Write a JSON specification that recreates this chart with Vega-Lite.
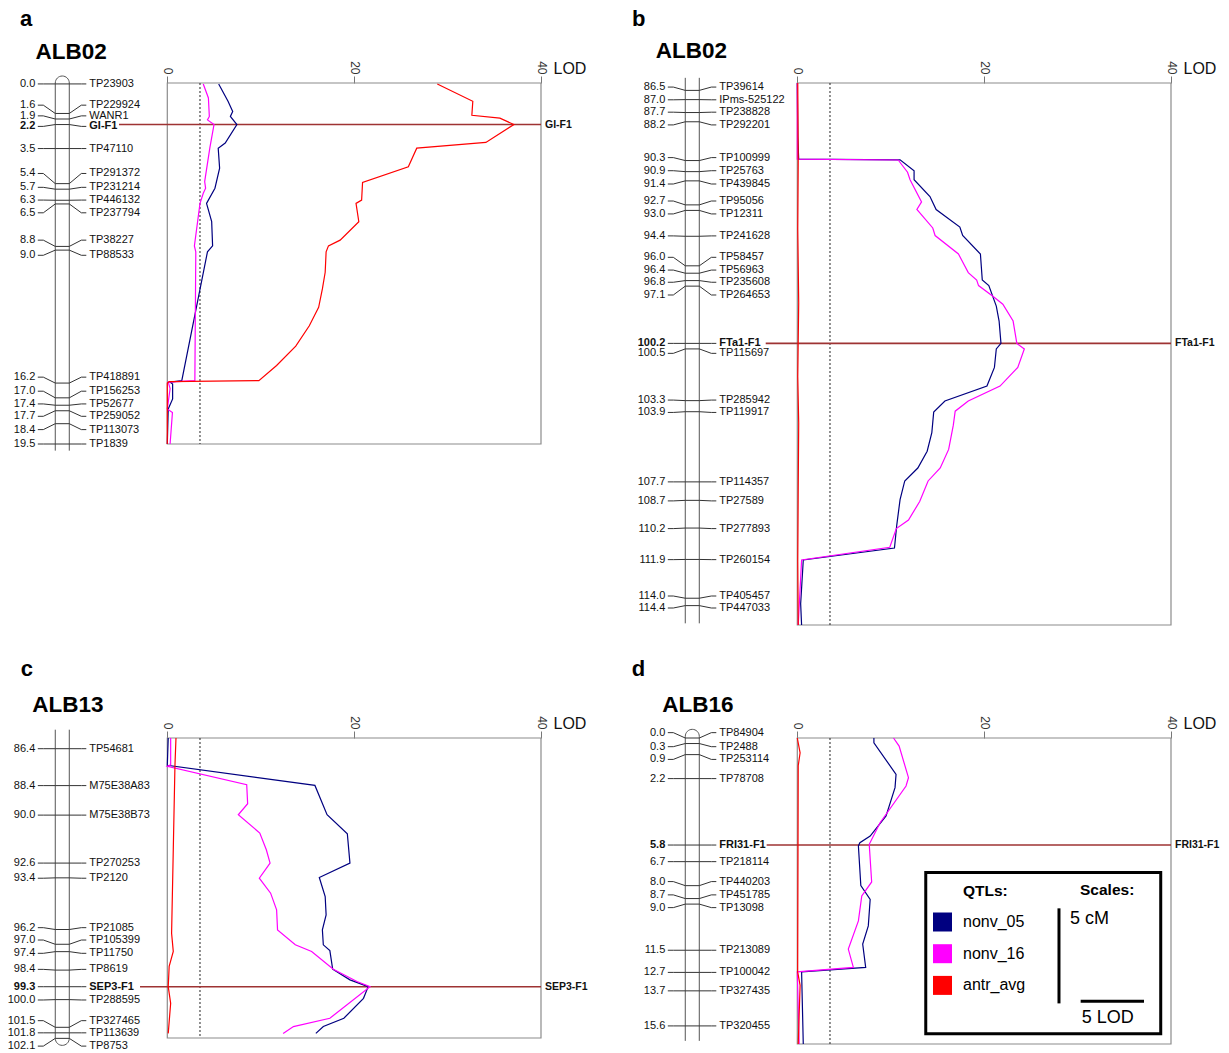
{
"$schema": "https://vega.github.io/schema/vega-lite/v6.json",
"padding": {"left": 1, "top": 8, "right": 0, "bottom": 0},
"columns": 2,
"spacing": {"row": 113, "column": 90},
"bounds": "flush",
"datasets": {
"mk_a": [
{"marker":"TP23903","cM":0.0,"label_cM":0.0,"qtl":false},
{"marker":"TP229924","cM":1.6,"label_cM":1.15,"qtl":false},
{"marker":"WANR1","cM":1.9,"label_cM":1.73,"qtl":false},
{"marker":"GI-F1","cM":2.2,"label_cM":2.3,"qtl":true},
{"marker":"TP47110","cM":3.5,"label_cM":3.5,"qtl":false},
{"marker":"TP291372","cM":5.4,"label_cM":4.85,"qtl":false},
{"marker":"TP231214","cM":5.7,"label_cM":5.6,"qtl":false},
{"marker":"TP446132","cM":6.3,"label_cM":6.29,"qtl":false},
{"marker":"TP237794","cM":6.5,"label_cM":6.98,"qtl":false},
{"marker":"TP38227","cM":8.8,"label_cM":8.46,"qtl":false},
{"marker":"TP88533","cM":9.0,"label_cM":9.28,"qtl":false},
{"marker":"TP418891","cM":16.2,"label_cM":15.88,"qtl":false},
{"marker":"TP156253","cM":17.0,"label_cM":16.64,"qtl":false},
{"marker":"TP52677","cM":17.4,"label_cM":17.33,"qtl":false},
{"marker":"TP259052","cM":17.7,"label_cM":18.0,"qtl":false},
{"marker":"TP113073","cM":18.4,"label_cM":18.72,"qtl":false},
{"marker":"TP1839","cM":19.5,"label_cM":19.5,"qtl":false}
],
"mk_b": [
{"marker":"TP39614","cM":86.5,"label_cM":86.32,"qtl":false},
{"marker":"IPms-525122","cM":87.0,"label_cM":87.01,"qtl":false},
{"marker":"TP238828","cM":87.7,"label_cM":87.68,"qtl":false},
{"marker":"TP292201","cM":88.2,"label_cM":88.37,"qtl":false},
{"marker":"TP100999","cM":90.3,"label_cM":90.14,"qtl":false},
{"marker":"TP25763","cM":90.9,"label_cM":90.85,"qtl":false},
{"marker":"TP439845","cM":91.4,"label_cM":91.57,"qtl":false},
{"marker":"TP95056","cM":92.7,"label_cM":92.49,"qtl":false},
{"marker":"TP12311","cM":93.0,"label_cM":93.19,"qtl":false},
{"marker":"TP241628","cM":94.4,"label_cM":94.38,"qtl":false},
{"marker":"TP58457","cM":96.0,"label_cM":95.54,"qtl":false},
{"marker":"TP56963","cM":96.4,"label_cM":96.23,"qtl":false},
{"marker":"TP235608","cM":96.8,"label_cM":96.89,"qtl":false},
{"marker":"TP264653","cM":97.1,"label_cM":97.58,"qtl":false},
{"marker":"FTa1-F1","cM":100.2,"label_cM":100.2,"qtl":true},
{"marker":"TP115697","cM":100.5,"label_cM":100.74,"qtl":false},
{"marker":"TP285942","cM":103.3,"label_cM":103.27,"qtl":false},
{"marker":"TP119917","cM":103.9,"label_cM":103.94,"qtl":false},
{"marker":"TP114357","cM":107.7,"label_cM":107.7,"qtl":false},
{"marker":"TP27589","cM":108.7,"label_cM":108.73,"qtl":false},
{"marker":"TP277893","cM":110.2,"label_cM":110.23,"qtl":false},
{"marker":"TP260154","cM":111.9,"label_cM":111.91,"qtl":false},
{"marker":"TP405457","cM":114.0,"label_cM":113.88,"qtl":false},
{"marker":"TP447033","cM":114.4,"label_cM":114.53,"qtl":false}
],
"mk_c": [
{"marker":"TP54681","cM":86.4,"label_cM":86.4,"qtl":false},
{"marker":"M75E38A83","cM":88.4,"label_cM":88.4,"qtl":false},
{"marker":"M75E38B73","cM":90.0,"label_cM":90.0,"qtl":false},
{"marker":"TP270253","cM":92.6,"label_cM":92.6,"qtl":false},
{"marker":"TP2120","cM":93.4,"label_cM":93.42,"qtl":false},
{"marker":"TP21085","cM":96.2,"label_cM":96.1,"qtl":false},
{"marker":"TP105399","cM":97.0,"label_cM":96.77,"qtl":false},
{"marker":"TP11750","cM":97.4,"label_cM":97.49,"qtl":false},
{"marker":"TP8619","cM":98.4,"label_cM":98.36,"qtl":false},
{"marker":"SEP3-F1","cM":99.3,"label_cM":99.3,"qtl":true},
{"marker":"TP288595","cM":100.0,"label_cM":100.02,"qtl":false},
{"marker":"TP327465","cM":101.5,"label_cM":101.14,"qtl":false},
{"marker":"TP113639","cM":101.8,"label_cM":101.8,"qtl":false},
{"marker":"TP8753","cM":102.1,"label_cM":102.52,"qtl":false}
],
"mk_d": [
{"marker":"TP84904","cM":0.0,"label_cM":-0.29,"qtl":false},
{"marker":"TP2488","cM":0.3,"label_cM":0.47,"qtl":false},
{"marker":"TP253114","cM":0.9,"label_cM":1.16,"qtl":false},
{"marker":"TP78708","cM":2.2,"label_cM":2.2,"qtl":false},
{"marker":"FRI31-F1","cM":5.8,"label_cM":5.8,"qtl":true},
{"marker":"TP218114","cM":6.7,"label_cM":6.7,"qtl":false},
{"marker":"TP440203","cM":8.0,"label_cM":7.78,"qtl":false},
{"marker":"TP451785","cM":8.7,"label_cM":8.5,"qtl":false},
{"marker":"TP13098","cM":9.0,"label_cM":9.19,"qtl":false},
{"marker":"TP213089","cM":11.5,"label_cM":11.5,"qtl":false},
{"marker":"TP100042","cM":12.7,"label_cM":12.7,"qtl":false},
{"marker":"TP327435","cM":13.7,"label_cM":13.7,"qtl":false},
{"marker":"TP320455","cM":15.6,"label_cM":15.6,"qtl":false}
],
"lod_a": [
{"trait":"nonv_05","cM":0,"LOD":5.5},{"trait":"nonv_05","cM":0.94,"LOD":6.5},{"trait":"nonv_05","cM":1.49,"LOD":7.0},{"trait":"nonv_05","cM":1.76,"LOD":6.75},{"trait":"nonv_05","cM":2.2,"LOD":7.45},{"trait":"nonv_05","cM":3.2,"LOD":6.2},{"trait":"nonv_05","cM":3.48,"LOD":5.45},{"trait":"nonv_05","cM":4.56,"LOD":5.6},{"trait":"nonv_05","cM":5.65,"LOD":5.1},{"trait":"nonv_05","cM":6.47,"LOD":4.2},{"trait":"nonv_05","cM":7.46,"LOD":4.75},{"trait":"nonv_05","cM":8.77,"LOD":4.85},{"trait":"nonv_05","cM":9.09,"LOD":4.3},{"trait":"nonv_05","cM":16.07,"LOD":1.55},{"trait":"nonv_05","cM":16.15,"LOD":0.3},{"trait":"nonv_05","cM":16.25,"LOD":0.57},{"trait":"nonv_05","cM":17.06,"LOD":0.57},{"trait":"nonv_05","cM":17.6,"LOD":0.1},{"trait":"nonv_05","cM":19.5,"LOD":0.0},
{"trait":"nonv_16","cM":0,"LOD":3.85},{"trait":"nonv_16","cM":0.76,"LOD":4.4},{"trait":"nonv_16","cM":1.76,"LOD":4.5},{"trait":"nonv_16","cM":1.95,"LOD":4.3},{"trait":"nonv_16","cM":2.2,"LOD":5.0},{"trait":"nonv_16","cM":3.48,"LOD":4.55},{"trait":"nonv_16","cM":5.29,"LOD":4.0},{"trait":"nonv_16","cM":5.65,"LOD":4.1},{"trait":"nonv_16","cM":5.92,"LOD":3.85},{"trait":"nonv_16","cM":6.47,"LOD":3.5},{"trait":"nonv_16","cM":8.77,"LOD":2.9},{"trait":"nonv_16","cM":9.09,"LOD":3.05},{"trait":"nonv_16","cM":16.07,"LOD":2.95},{"trait":"nonv_16","cM":16.15,"LOD":0.1},{"trait":"nonv_16","cM":16.5,"LOD":0.3},{"trait":"nonv_16","cM":17.6,"LOD":0.0},{"trait":"nonv_16","cM":17.8,"LOD":0.55},{"trait":"nonv_16","cM":19.5,"LOD":0.3},
{"trait":"antr_avg","cM":0,"LOD":28.9},{"trait":"antr_avg","cM":0.94,"LOD":32.7},{"trait":"antr_avg","cM":1.7,"LOD":32.6},{"trait":"antr_avg","cM":1.85,"LOD":35.6},{"trait":"antr_avg","cM":2.2,"LOD":37.1},{"trait":"antr_avg","cM":3.17,"LOD":34.1},{"trait":"antr_avg","cM":3.48,"LOD":26.7},{"trait":"antr_avg","cM":4.49,"LOD":25.8},{"trait":"antr_avg","cM":5.34,"LOD":20.9},{"trait":"antr_avg","cM":6.29,"LOD":20.8},{"trait":"antr_avg","cM":6.47,"LOD":20.2},{"trait":"antr_avg","cM":7.46,"LOD":20.5},{"trait":"antr_avg","cM":8.46,"LOD":18.5},{"trait":"antr_avg","cM":8.77,"LOD":17.25},{"trait":"antr_avg","cM":9.09,"LOD":17.0},{"trait":"antr_avg","cM":10.2,"LOD":16.9},{"trait":"antr_avg","cM":11.1,"LOD":16.6},{"trait":"antr_avg","cM":12.1,"LOD":16.2},{"trait":"antr_avg","cM":13.1,"LOD":15.2},{"trait":"antr_avg","cM":14.2,"LOD":13.75},{"trait":"antr_avg","cM":15.25,"LOD":11.7},{"trait":"antr_avg","cM":16.07,"LOD":9.8},{"trait":"antr_avg","cM":16.12,"LOD":0.2},{"trait":"antr_avg","cM":16.2,"LOD":0.0},{"trait":"antr_avg","cM":19.5,"LOD":0.0}
],
"lod_b": [
{"trait":"nonv_05","cM":86.1,"LOD":0},{"trait":"nonv_05","cM":89.0,"LOD":0.05},{"trait":"nonv_05","cM":90.22,"LOD":0.15},{"trait":"nonv_05","cM":90.26,"LOD":11.0},{"trait":"nonv_05","cM":90.86,"LOD":12.5},{"trait":"nonv_05","cM":91.34,"LOD":12.5},{"trait":"nonv_05","cM":92.25,"LOD":14.2},{"trait":"nonv_05","cM":92.95,"LOD":14.86},{"trait":"nonv_05","cM":93.9,"LOD":17.4},{"trait":"nonv_05","cM":94.36,"LOD":17.7},{"trait":"nonv_05","cM":95.36,"LOD":19.6},{"trait":"nonv_05","cM":96.77,"LOD":19.8},{"trait":"nonv_05","cM":97.07,"LOD":20.5},{"trait":"nonv_05","cM":98.18,"LOD":21.3},{"trait":"nonv_05","cM":98.99,"LOD":21.6},{"trait":"nonv_05","cM":100.2,"LOD":21.8},{"trait":"nonv_05","cM":100.5,"LOD":21.3},{"trait":"nonv_05","cM":101.5,"LOD":21.1},{"trait":"nonv_05","cM":102.51,"LOD":20.3},{"trait":"nonv_05","cM":103.32,"LOD":15.8},{"trait":"nonv_05","cM":103.92,"LOD":14.6},{"trait":"nonv_05","cM":105.03,"LOD":14.4},{"trait":"nonv_05","cM":106.04,"LOD":13.9},{"trait":"nonv_05","cM":106.95,"LOD":12.9},{"trait":"nonv_05","cM":107.65,"LOD":11.5},{"trait":"nonv_05","cM":108.66,"LOD":11.0},{"trait":"nonv_05","cM":110.07,"LOD":10.64},{"trait":"nonv_05","cM":111.28,"LOD":10.4},{"trait":"nonv_05","cM":111.93,"LOD":0.64},{"trait":"nonv_05","cM":114.3,"LOD":0.36},{"trait":"nonv_05","cM":115.45,"LOD":0.46},
{"trait":"nonv_16","cM":86.1,"LOD":0},{"trait":"nonv_16","cM":90.22,"LOD":0},{"trait":"nonv_16","cM":90.27,"LOD":10.8},{"trait":"nonv_16","cM":90.93,"LOD":11.8},{"trait":"nonv_16","cM":91.34,"LOD":12.07},{"trait":"nonv_16","cM":92.54,"LOD":13.3},{"trait":"nonv_16","cM":92.95,"LOD":12.8},{"trait":"nonv_16","cM":93.95,"LOD":14.5},{"trait":"nonv_16","cM":94.36,"LOD":14.75},{"trait":"nonv_16","cM":95.36,"LOD":17.25},{"trait":"nonv_16","cM":96.37,"LOD":18.3},{"trait":"nonv_16","cM":96.77,"LOD":19.2},{"trait":"nonv_16","cM":97.07,"LOD":19.4},{"trait":"nonv_16","cM":97.68,"LOD":21.0},{"trait":"nonv_16","cM":98.08,"LOD":22.0},{"trait":"nonv_16","cM":98.99,"LOD":23.1},{"trait":"nonv_16","cM":100.2,"LOD":23.5},{"trait":"nonv_16","cM":100.5,"LOD":24.3},{"trait":"nonv_16","cM":101.5,"LOD":23.6},{"trait":"nonv_16","cM":102.51,"LOD":21.7},{"trait":"nonv_16","cM":103.32,"LOD":18.3},{"trait":"nonv_16","cM":103.87,"LOD":16.9},{"trait":"nonv_16","cM":104.63,"LOD":16.7},{"trait":"nonv_16","cM":105.94,"LOD":16.2},{"trait":"nonv_16","cM":106.95,"LOD":15.3},{"trait":"nonv_16","cM":107.65,"LOD":14.0},{"trait":"nonv_16","cM":108.76,"LOD":13.1},{"trait":"nonv_16","cM":109.77,"LOD":11.9},{"trait":"nonv_16","cM":110.23,"LOD":10.6},{"trait":"nonv_16","cM":111.24,"LOD":9.9},{"trait":"nonv_16","cM":111.93,"LOD":0.46},{"trait":"nonv_16","cM":115.45,"LOD":0.1},
{"trait":"antr_avg","cM":86.1,"LOD":0.05},{"trait":"antr_avg","cM":90.3,"LOD":0.1},{"trait":"antr_avg","cM":94.0,"LOD":0.05},{"trait":"antr_avg","cM":98.0,"LOD":0.15},{"trait":"antr_avg","cM":102.0,"LOD":0.05},{"trait":"antr_avg","cM":104.5,"LOD":0.15},{"trait":"antr_avg","cM":108.0,"LOD":0.1},{"trait":"antr_avg","cM":112.0,"LOD":0.05},{"trait":"antr_avg","cM":115.45,"LOD":0.1}
],
"lod_c": [
{"trait":"nonv_05","cM":85.82,"LOD":0.1},{"trait":"nonv_05","cM":87.3,"LOD":0.0},{"trait":"nonv_05","cM":88.39,"LOD":15.8},{"trait":"nonv_05","cM":89.98,"LOD":17.1},{"trait":"nonv_05","cM":91.01,"LOD":19.27},{"trait":"nonv_05","cM":92.6,"LOD":19.55},{"trait":"nonv_05","cM":93.38,"LOD":16.27},{"trait":"nonv_05","cM":94.41,"LOD":16.9},{"trait":"nonv_05","cM":95.41,"LOD":17.0},{"trait":"nonv_05","cM":96.22,"LOD":16.6},{"trait":"nonv_05","cM":97.03,"LOD":16.7},{"trait":"nonv_05","cM":97.34,"LOD":17.4},{"trait":"nonv_05","cM":98.35,"LOD":17.7},{"trait":"nonv_05","cM":98.93,"LOD":19.55},{"trait":"nonv_05","cM":99.3,"LOD":21.5},{"trait":"nonv_05","cM":99.93,"LOD":21.0},{"trait":"nonv_05","cM":101.01,"LOD":18.9},{"trait":"nonv_05","cM":101.46,"LOD":16.7},{"trait":"nonv_05","cM":101.83,"LOD":15.9},
{"trait":"nonv_16","cM":85.82,"LOD":0.36},{"trait":"nonv_16","cM":87.27,"LOD":0.36},{"trait":"nonv_16","cM":87.36,"LOD":0.0},{"trait":"nonv_16","cM":88.35,"LOD":8.5},{"trait":"nonv_16","cM":89.38,"LOD":8.6},{"trait":"nonv_16","cM":89.98,"LOD":7.6},{"trait":"nonv_16","cM":90.97,"LOD":9.9},{"trait":"nonv_16","cM":91.88,"LOD":10.6},{"trait":"nonv_16","cM":92.6,"LOD":11.0},{"trait":"nonv_16","cM":93.42,"LOD":9.85},{"trait":"nonv_16","cM":94.23,"LOD":11.06},{"trait":"nonv_16","cM":95.13,"LOD":11.7},{"trait":"nonv_16","cM":96.22,"LOD":11.8},{"trait":"nonv_16","cM":97.03,"LOD":13.7},{"trait":"nonv_16","cM":97.39,"LOD":15.45},{"trait":"nonv_16","cM":98.35,"LOD":17.77},{"trait":"nonv_16","cM":99.02,"LOD":20.3},{"trait":"nonv_16","cM":99.3,"LOD":21.7},{"trait":"nonv_16","cM":101.01,"LOD":17.4},{"trait":"nonv_16","cM":101.46,"LOD":13.5},{"trait":"nonv_16","cM":101.83,"LOD":12.4},
{"trait":"antr_avg","cM":85.82,"LOD":0.93},{"trait":"antr_avg","cM":87.3,"LOD":0.82},{"trait":"antr_avg","cM":91.88,"LOD":0.64},{"trait":"antr_avg","cM":96.4,"LOD":0.46},{"trait":"antr_avg","cM":97.39,"LOD":0.64},{"trait":"antr_avg","cM":98.2,"LOD":0.2},{"trait":"antr_avg","cM":99.3,"LOD":0.1},{"trait":"antr_avg","cM":100.2,"LOD":0.36},{"trait":"antr_avg","cM":101.83,"LOD":0.1}
],
"lod_d": [
{"trait":"nonv_05","cM":0,"LOD":8.2},{"trait":"nonv_05","cM":0.26,"LOD":8.2},{"trait":"nonv_05","cM":1.97,"LOD":10.57},{"trait":"nonv_05","cM":2.69,"LOD":10.46},{"trait":"nonv_05","cM":4.22,"LOD":9.5},{"trait":"nonv_05","cM":5.31,"LOD":7.8},{"trait":"nonv_05","cM":5.67,"LOD":6.7},{"trait":"nonv_05","cM":5.85,"LOD":6.54},{"trait":"nonv_05","cM":8.0,"LOD":6.8},{"trait":"nonv_05","cM":8.74,"LOD":7.8},{"trait":"nonv_05","cM":10.18,"LOD":7.6},{"trait":"nonv_05","cM":11.17,"LOD":7.0},{"trait":"nonv_05","cM":12.43,"LOD":7.32},{"trait":"nonv_05","cM":12.67,"LOD":0.46},{"trait":"nonv_05","cM":16.58,"LOD":0.64},
{"trait":"nonv_16","cM":0,"LOD":10.3},{"trait":"nonv_16","cM":0.44,"LOD":10.9},{"trait":"nonv_16","cM":2.15,"LOD":11.9},{"trait":"nonv_16","cM":2.6,"LOD":11.64},{"trait":"nonv_16","cM":4.59,"LOD":8.86},{"trait":"nonv_16","cM":5.76,"LOD":7.7},{"trait":"nonv_16","cM":7.8,"LOD":7.96},{"trait":"nonv_16","cM":8.56,"LOD":6.9},{"trait":"nonv_16","cM":9.91,"LOD":6.54},{"trait":"nonv_16","cM":11.44,"LOD":5.46},{"trait":"nonv_16","cM":12.43,"LOD":6.0},{"trait":"nonv_16","cM":12.67,"LOD":0.0},{"trait":"nonv_16","cM":16.58,"LOD":0.2},
{"trait":"antr_avg","cM":0,"LOD":0.0},{"trait":"antr_avg","cM":0.8,"LOD":0.3},{"trait":"antr_avg","cM":1.5,"LOD":0.1},{"trait":"antr_avg","cM":12.67,"LOD":0.04},{"trait":"antr_avg","cM":13.4,"LOD":0.3},{"trait":"antr_avg","cM":16.58,"LOD":0.1}
]
},
"concat": [
{
"width": 540, "height": 361,
"title": {"text": "a", "anchor": "start", "frame": "group", "dx": 19, "offset": -8.3, "fontSize": 22, "fontWeight": "bold", "baseline": "alphabetic", "color": "#000"},
"resolve": {"axis": {"x": "independent", "y": "independent"}},
"layer": [
{"data": {"values": [{}]}, "mark": {"type": "rect", "fill": "transparent", "stroke": "#8c8c8c", "strokeWidth": 1.2}, "encoding": {"x": {"datum": 0, "axis": null}, "x2": {"datum": 40}}},
{"data": {"values": [{}]}, "mark": {"type": "rule", "color": "#222", "strokeDash": [2, 2], "strokeWidth": 1}, "encoding": {"x": {"datum": 3.5, "axis": null}}},
{"data": {"values": [{}]}, "mark": {"type": "rule", "color": "#555", "strokeWidth": 1}, "encoding": {"x": {"datum": -11.99, "axis": null}, "y": {"datum": -0.05, "axis": null}, "y2": {"datum": 19.86}}},
{"data": {"values": [{}]}, "mark": {"type": "rule", "color": "#555", "strokeWidth": 1}, "encoding": {"x": {"datum": -10.49, "axis": null}, "y": {"datum": -0.05, "axis": null}, "y2": {"datum": 19.86}}},
{"data": {"values": [{}]}, "mark": {"type": "point", "shape": "M -1 0 A 1 1 0 0 1 1 0", "size": 196, "filled": false, "color": "#555", "strokeWidth": 1, "opacity": 1}, "encoding": {"x": {"datum": -11.24, "axis": null}, "y": {"datum": -0.05, "axis": null}}},
{"data": {"name": "mk_a"}, "mark": {"type": "rule", "color": "#333", "strokeWidth": 1}, "encoding": {"x": {"datum": -13.86, "axis": null}, "x2": {"datum": -13.27}, "y": {"field": "label_cM", "type": "quantitative", "axis": null}}},
{"data": {"name": "mk_a"}, "mark": {"type": "rule", "color": "#333", "strokeWidth": 1}, "encoding": {"x": {"datum": -13.27, "axis": null}, "x2": {"datum": -11.99}, "y": {"field": "label_cM", "type": "quantitative", "axis": null}, "y2": {"field": "cM"}}},
{"data": {"name": "mk_a"}, "mark": {"type": "rule", "color": "#333", "strokeWidth": 1}, "encoding": {"x": {"datum": -11.99, "axis": null}, "x2": {"datum": -10.49}, "y": {"field": "cM", "type": "quantitative", "axis": null}}},
{"data": {"name": "mk_a"}, "mark": {"type": "rule", "color": "#333", "strokeWidth": 1}, "encoding": {"x": {"datum": -10.49, "axis": null}, "x2": {"datum": -9.2}, "y": {"field": "cM", "type": "quantitative", "axis": null}, "y2": {"field": "label_cM"}}},
{"data": {"name": "mk_a"}, "mark": {"type": "rule", "color": "#333", "strokeWidth": 1}, "encoding": {"x": {"datum": -9.2, "axis": null}, "x2": {"datum": -8.67}, "y": {"field": "label_cM", "type": "quantitative", "axis": null}}},
{"data": {"name": "mk_a"}, "transform": [{"filter": "!datum.qtl"}], "mark": {"type": "text", "align": "right", "baseline": "middle", "fontSize": 11, "color": "#111"}, "encoding": {"x": {"datum": -14.13, "axis": null}, "y": {"field": "label_cM", "type": "quantitative", "axis": null}, "text": {"field": "cM", "type": "quantitative", "format": ".1f"}}},
{"data": {"name": "mk_a"}, "transform": [{"filter": "datum.qtl"}], "mark": {"type": "text", "align": "right", "baseline": "middle", "fontSize": 11, "fontWeight": "bold", "color": "#111"}, "encoding": {"x": {"datum": -14.13, "axis": null}, "y": {"field": "label_cM", "type": "quantitative", "axis": null}, "text": {"field": "cM", "type": "quantitative", "format": ".1f"}}},
{"data": {"name": "mk_a"}, "transform": [{"filter": "!datum.qtl"}], "mark": {"type": "text", "align": "left", "baseline": "middle", "fontSize": 11, "color": "#111"}, "encoding": {"x": {"datum": -8.35, "axis": null}, "y": {"field": "label_cM", "type": "quantitative", "axis": null}, "text": {"field": "marker"}}},
{"data": {"name": "mk_a"}, "transform": [{"filter": "datum.qtl"}], "mark": {"type": "text", "align": "left", "baseline": "middle", "fontSize": 11, "fontWeight": "bold", "color": "#111"}, "encoding": {"x": {"datum": -8.35, "axis": null}, "y": {"field": "label_cM", "type": "quantitative", "axis": null}, "text": {"field": "marker"}}},
{"data": {"name": "mk_a"}, "transform": [{"filter": "datum.qtl"}], "mark": {"type": "rule", "color": "#9e3333", "strokeWidth": 1.6}, "encoding": {"x": {"datum": -5.17, "axis": null}, "x2": {"datum": 40}, "y": {"field": "cM", "type": "quantitative", "axis": null}}},
{"data": {"name": "mk_a"}, "transform": [{"filter": "datum.qtl"}], "mark": {"type": "text", "align": "left", "baseline": "middle", "dx": 4, "fontSize": 10.5, "fontWeight": "bold", "color": "#111"}, "encoding": {"x": {"datum": 40, "axis": null}, "y": {"field": "cM", "type": "quantitative", "axis": null}, "text": {"field": "marker"}}},
{"data": {"name": "lod_a"}, "mark": {"type": "line", "strokeWidth": 1.2},
 "encoding": {
  "x": {"field": "LOD", "type": "quantitative", "scale": {"domain": [-17.8, 40], "nice": false, "zero": false},
   "axis": {"orient": "top", "values": [0, 20, 40], "labelAngle": 90, "labelAlign": "right", "labelBaseline": "middle", "labelFontSize": 12, "labelColor": "#333", "labelPadding": 2, "labelFlush": false, "labelOverlap": false, "domain": false, "grid": false, "ticks": true, "tickSize": 7, "tickColor": "#777", "title": "LOD", "titleX": 552, "titleY": -10, "titleAngle": 0, "titleAlign": "left", "titleBaseline": "alphabetic", "titleFontSize": 16, "titleFontWeight": "normal", "titleColor": "#111"}},
  "y": {"field": "cM", "type": "quantitative", "scale": {"domain": [-0.05, 19.5], "reverse": true, "nice": false, "zero": false},
   "axis": {"orient": "left", "domain": false, "ticks": false, "labels": false, "grid": false, "title": "ALB02", "titleX": 34, "titleY": -25, "titleAngle": 0, "titleAlign": "left", "titleBaseline": "alphabetic", "titleFontSize": 22.5, "titleFontWeight": "bold", "titleColor": "#000"}},
  "color": {"field": "trait", "type": "nominal", "scale": {"domain": ["nonv_05", "nonv_16", "antr_avg"], "range": ["#000080", "#ff00ff", "#ff0000"]},
   "legend": {"title": "QTLs:", "orient": "none", "legendX": 932, "legendY": 801, "direction": "vertical", "symbolType": "square", "symbolSize": 361, "symbolStrokeWidth": 0, "labelFontSize": 16, "labelColor": "#000", "labelOffset": 11, "rowPadding": 12.7, "titleFontSize": 15.5, "titleFontWeight": "bold", "titleColor": "#000", "titlePadding": 13, "padding": 0, "labelLimit": 200,
    "encode": {"symbols": {"update": {"fill": {"scale": "color", "field": "value"}, "strokeWidth": {"value": 0}, "opacity": {"value": 1}}}, "title": {"update": {"dx": {"value": 30}}}}}},
  "order": {"field": "cM", "type": "quantitative"}
 }}
]
},
{
"width": 540, "height": 542,
"title": {"text": "b", "anchor": "start", "frame": "group", "dx": 1, "offset": -9, "fontSize": 22, "fontWeight": "bold", "baseline": "alphabetic", "color": "#000"},
"resolve": {"axis": {"x": "independent", "y": "independent"}},
"layer": [
{"data": {"values": [{}]}, "mark": {"type": "rect", "fill": "transparent", "stroke": "#8c8c8c", "strokeWidth": 1.2}, "encoding": {"x": {"datum": 0, "axis": null}, "x2": {"datum": 40}}},
{"data": {"values": [{}]}, "mark": {"type": "rule", "color": "#222", "strokeDash": [2, 2], "strokeWidth": 1}, "encoding": {"x": {"datum": 3.5, "axis": null}}},
{"data": {"values": [{}]}, "mark": {"type": "rule", "color": "#555", "strokeWidth": 1}, "encoding": {"x": {"datum": -11.99, "axis": null}, "y": {"datum": 85.82, "axis": null}, "y2": {"datum": 115.36}}},
{"data": {"values": [{}]}, "mark": {"type": "rule", "color": "#555", "strokeWidth": 1}, "encoding": {"x": {"datum": -10.49, "axis": null}, "y": {"datum": 85.82, "axis": null}, "y2": {"datum": 115.36}}},
{"data": {"name": "mk_b"}, "mark": {"type": "rule", "color": "#333", "strokeWidth": 1}, "encoding": {"x": {"datum": -13.86, "axis": null}, "x2": {"datum": -13.27}, "y": {"field": "label_cM", "type": "quantitative", "axis": null}}},
{"data": {"name": "mk_b"}, "mark": {"type": "rule", "color": "#333", "strokeWidth": 1}, "encoding": {"x": {"datum": -13.27, "axis": null}, "x2": {"datum": -11.99}, "y": {"field": "label_cM", "type": "quantitative", "axis": null}, "y2": {"field": "cM"}}},
{"data": {"name": "mk_b"}, "mark": {"type": "rule", "color": "#333", "strokeWidth": 1}, "encoding": {"x": {"datum": -11.99, "axis": null}, "x2": {"datum": -10.49}, "y": {"field": "cM", "type": "quantitative", "axis": null}}},
{"data": {"name": "mk_b"}, "mark": {"type": "rule", "color": "#333", "strokeWidth": 1}, "encoding": {"x": {"datum": -10.49, "axis": null}, "x2": {"datum": -9.2}, "y": {"field": "cM", "type": "quantitative", "axis": null}, "y2": {"field": "label_cM"}}},
{"data": {"name": "mk_b"}, "mark": {"type": "rule", "color": "#333", "strokeWidth": 1}, "encoding": {"x": {"datum": -9.2, "axis": null}, "x2": {"datum": -8.67}, "y": {"field": "label_cM", "type": "quantitative", "axis": null}}},
{"data": {"name": "mk_b"}, "transform": [{"filter": "!datum.qtl"}], "mark": {"type": "text", "align": "right", "baseline": "middle", "fontSize": 11, "color": "#111"}, "encoding": {"x": {"datum": -14.13, "axis": null}, "y": {"field": "label_cM", "type": "quantitative", "axis": null}, "text": {"field": "cM", "type": "quantitative", "format": ".1f"}}},
{"data": {"name": "mk_b"}, "transform": [{"filter": "datum.qtl"}], "mark": {"type": "text", "align": "right", "baseline": "middle", "fontSize": 11, "fontWeight": "bold", "color": "#111"}, "encoding": {"x": {"datum": -14.13, "axis": null}, "y": {"field": "label_cM", "type": "quantitative", "axis": null}, "text": {"field": "cM", "type": "quantitative", "format": ".1f"}}},
{"data": {"name": "mk_b"}, "transform": [{"filter": "!datum.qtl"}], "mark": {"type": "text", "align": "left", "baseline": "middle", "fontSize": 11, "color": "#111"}, "encoding": {"x": {"datum": -8.35, "axis": null}, "y": {"field": "label_cM", "type": "quantitative", "axis": null}, "text": {"field": "marker"}}},
{"data": {"name": "mk_b"}, "transform": [{"filter": "datum.qtl"}], "mark": {"type": "text", "align": "left", "baseline": "middle", "fontSize": 11, "fontWeight": "bold", "color": "#111"}, "encoding": {"x": {"datum": -8.35, "axis": null}, "y": {"field": "label_cM", "type": "quantitative", "axis": null}, "text": {"field": "marker"}}},
{"data": {"name": "mk_b"}, "transform": [{"filter": "datum.qtl"}], "mark": {"type": "rule", "color": "#9e3333", "strokeWidth": 1.6}, "encoding": {"x": {"datum": -3.38, "axis": null}, "x2": {"datum": 40}, "y": {"field": "cM", "type": "quantitative", "axis": null}}},
{"data": {"name": "mk_b"}, "transform": [{"filter": "datum.qtl"}], "mark": {"type": "text", "align": "left", "baseline": "middle", "dx": 4, "fontSize": 10.5, "fontWeight": "bold", "color": "#111"}, "encoding": {"x": {"datum": 40, "axis": null}, "y": {"field": "cM", "type": "quantitative", "axis": null}, "text": {"field": "marker"}}},
{"data": {"name": "lod_b"}, "mark": {"type": "line", "strokeWidth": 1.2},
 "encoding": {
  "x": {"field": "LOD", "type": "quantitative", "scale": {"domain": [-17.8, 40], "nice": false, "zero": false},
   "axis": {"orient": "top", "values": [0, 20, 40], "labelAngle": 90, "labelAlign": "right", "labelBaseline": "middle", "labelFontSize": 12, "labelColor": "#333", "labelPadding": 2, "labelFlush": false, "labelOverlap": false, "domain": false, "grid": false, "ticks": true, "tickSize": 7, "tickColor": "#777", "title": "LOD", "titleX": 552, "titleY": -10, "titleAngle": 0, "titleAlign": "left", "titleBaseline": "alphabetic", "titleFontSize": 16, "titleFontWeight": "normal", "titleColor": "#111"}},
  "y": {"field": "cM", "type": "quantitative", "scale": {"domain": [86.1, 115.45], "reverse": true, "nice": false, "zero": false},
   "axis": {"orient": "left", "domain": false, "ticks": false, "labels": false, "grid": false, "title": "ALB02", "titleX": 24.3, "titleY": -25.7, "titleAngle": 0, "titleAlign": "left", "titleBaseline": "alphabetic", "titleFontSize": 22.5, "titleFontWeight": "bold", "titleColor": "#000"}},
  "color": {"field": "trait", "type": "nominal", "scale": {"domain": ["nonv_05", "nonv_16", "antr_avg"], "range": ["#000080", "#ff00ff", "#ff0000"]}},
  "order": {"field": "cM", "type": "quantitative"}
 }}
]
},
{
"width": 540, "height": 300,
"title": {"text": "c", "anchor": "start", "frame": "group", "dx": 19.7, "offset": -4.6, "fontSize": 22, "fontWeight": "bold", "baseline": "alphabetic", "color": "#000"},
"resolve": {"axis": {"x": "independent", "y": "independent"}},
"layer": [
{"data": {"values": [{}]}, "mark": {"type": "rect", "fill": "transparent", "stroke": "#8c8c8c", "strokeWidth": 1.2}, "encoding": {"x": {"datum": 0, "axis": null}, "x2": {"datum": 40}}},
{"data": {"values": [{}]}, "mark": {"type": "rule", "color": "#222", "strokeDash": [2, 2], "strokeWidth": 1}, "encoding": {"x": {"datum": 3.5, "axis": null}}},
{"data": {"values": [{}]}, "mark": {"type": "rule", "color": "#555", "strokeWidth": 1}, "encoding": {"x": {"datum": -11.99, "axis": null}, "y": {"datum": 85.37, "axis": null}, "y2": {"datum": 102.1}}},
{"data": {"values": [{}]}, "mark": {"type": "rule", "color": "#555", "strokeWidth": 1}, "encoding": {"x": {"datum": -10.49, "axis": null}, "y": {"datum": 85.37, "axis": null}, "y2": {"datum": 102.1}}},
{"data": {"values": [{}]}, "mark": {"type": "point", "shape": "M -1 0 A 1 1 0 0 0 1 0", "size": 196, "filled": false, "color": "#555", "strokeWidth": 1, "opacity": 1}, "encoding": {"x": {"datum": -11.24, "axis": null}, "y": {"datum": 102.1, "axis": null}}},
{"data": {"name": "mk_c"}, "mark": {"type": "rule", "color": "#333", "strokeWidth": 1}, "encoding": {"x": {"datum": -13.86, "axis": null}, "x2": {"datum": -13.27}, "y": {"field": "label_cM", "type": "quantitative", "axis": null}}},
{"data": {"name": "mk_c"}, "mark": {"type": "rule", "color": "#333", "strokeWidth": 1}, "encoding": {"x": {"datum": -13.27, "axis": null}, "x2": {"datum": -11.99}, "y": {"field": "label_cM", "type": "quantitative", "axis": null}, "y2": {"field": "cM"}}},
{"data": {"name": "mk_c"}, "mark": {"type": "rule", "color": "#333", "strokeWidth": 1}, "encoding": {"x": {"datum": -11.99, "axis": null}, "x2": {"datum": -10.49}, "y": {"field": "cM", "type": "quantitative", "axis": null}}},
{"data": {"name": "mk_c"}, "mark": {"type": "rule", "color": "#333", "strokeWidth": 1}, "encoding": {"x": {"datum": -10.49, "axis": null}, "x2": {"datum": -9.2}, "y": {"field": "cM", "type": "quantitative", "axis": null}, "y2": {"field": "label_cM"}}},
{"data": {"name": "mk_c"}, "mark": {"type": "rule", "color": "#333", "strokeWidth": 1}, "encoding": {"x": {"datum": -9.2, "axis": null}, "x2": {"datum": -8.67}, "y": {"field": "label_cM", "type": "quantitative", "axis": null}}},
{"data": {"name": "mk_c"}, "transform": [{"filter": "!datum.qtl"}], "mark": {"type": "text", "align": "right", "baseline": "middle", "fontSize": 11, "color": "#111"}, "encoding": {"x": {"datum": -14.13, "axis": null}, "y": {"field": "label_cM", "type": "quantitative", "axis": null}, "text": {"field": "cM", "type": "quantitative", "format": ".1f"}}},
{"data": {"name": "mk_c"}, "transform": [{"filter": "datum.qtl"}], "mark": {"type": "text", "align": "right", "baseline": "middle", "fontSize": 11, "fontWeight": "bold", "color": "#111"}, "encoding": {"x": {"datum": -14.13, "axis": null}, "y": {"field": "label_cM", "type": "quantitative", "axis": null}, "text": {"field": "cM", "type": "quantitative", "format": ".1f"}}},
{"data": {"name": "mk_c"}, "transform": [{"filter": "!datum.qtl"}], "mark": {"type": "text", "align": "left", "baseline": "middle", "fontSize": 11, "color": "#111"}, "encoding": {"x": {"datum": -8.35, "axis": null}, "y": {"field": "label_cM", "type": "quantitative", "axis": null}, "text": {"field": "marker"}}},
{"data": {"name": "mk_c"}, "transform": [{"filter": "datum.qtl"}], "mark": {"type": "text", "align": "left", "baseline": "middle", "fontSize": 11, "fontWeight": "bold", "color": "#111"}, "encoding": {"x": {"datum": -8.35, "axis": null}, "y": {"field": "label_cM", "type": "quantitative", "axis": null}, "text": {"field": "marker"}}},
{"data": {"name": "mk_c"}, "transform": [{"filter": "datum.qtl"}], "mark": {"type": "rule", "color": "#9e3333", "strokeWidth": 1.6}, "encoding": {"x": {"datum": -2.92, "axis": null}, "x2": {"datum": 40}, "y": {"field": "cM", "type": "quantitative", "axis": null}}},
{"data": {"name": "mk_c"}, "transform": [{"filter": "datum.qtl"}], "mark": {"type": "text", "align": "left", "baseline": "middle", "dx": 4, "fontSize": 10.5, "fontWeight": "bold", "color": "#111"}, "encoding": {"x": {"datum": 40, "axis": null}, "y": {"field": "cM", "type": "quantitative", "axis": null}, "text": {"field": "marker"}}},
{"data": {"name": "lod_c"}, "mark": {"type": "line", "strokeWidth": 1.2},
 "encoding": {
  "x": {"field": "LOD", "type": "quantitative", "scale": {"domain": [-17.8, 40], "nice": false, "zero": false},
   "axis": {"orient": "top", "values": [0, 20, 40], "labelAngle": 90, "labelAlign": "right", "labelBaseline": "middle", "labelFontSize": 12, "labelColor": "#333", "labelPadding": 2, "labelFlush": false, "labelOverlap": false, "domain": false, "grid": false, "ticks": true, "tickSize": 7, "tickColor": "#777", "title": "LOD", "titleX": 552, "titleY": -10, "titleAngle": 0, "titleAlign": "left", "titleBaseline": "alphabetic", "titleFontSize": 16, "titleFontWeight": "normal", "titleColor": "#111"}},
  "y": {"field": "cM", "type": "quantitative", "scale": {"domain": [85.82, 102.08], "reverse": true, "nice": false, "zero": false},
   "axis": {"orient": "left", "domain": false, "ticks": false, "labels": false, "grid": false, "title": "ALB13", "titleX": 30.7, "titleY": -26.6, "titleAngle": 0, "titleAlign": "left", "titleBaseline": "alphabetic", "titleFontSize": 22.5, "titleFontWeight": "bold", "titleColor": "#000"}},
  "color": {"field": "trait", "type": "nominal", "scale": {"domain": ["nonv_05", "nonv_16", "antr_avg"], "range": ["#000080", "#ff00ff", "#ff0000"]}},
  "order": {"field": "cM", "type": "quantitative"}
 }}
]
},
{
"width": 540, "height": 306,
"title": {"text": "d", "anchor": "start", "frame": "group", "dx": 0.7, "offset": -4.6, "fontSize": 22, "fontWeight": "bold", "baseline": "alphabetic", "color": "#000"},
"resolve": {"axis": {"x": "independent", "y": "independent"}},
"layer": [
{"data": {"values": [{}]}, "mark": {"type": "rect", "fill": "transparent", "stroke": "#8c8c8c", "strokeWidth": 1.2}, "encoding": {"x": {"datum": 0, "axis": null}, "x2": {"datum": 40}}},
{"data": {"values": [{}]}, "mark": {"type": "rule", "color": "#222", "strokeDash": [2, 2], "strokeWidth": 1}, "encoding": {"x": {"datum": 3.5, "axis": null}}},
{"data": {"values": [{}]}, "mark": {"type": "rule", "color": "#555", "strokeWidth": 1}, "encoding": {"x": {"datum": -11.99, "axis": null}, "y": {"datum": -0.09, "axis": null}, "y2": {"datum": 16.41}}},
{"data": {"values": [{}]}, "mark": {"type": "rule", "color": "#555", "strokeWidth": 1}, "encoding": {"x": {"datum": -10.49, "axis": null}, "y": {"datum": -0.09, "axis": null}, "y2": {"datum": 16.41}}},
{"data": {"values": [{}]}, "mark": {"type": "point", "shape": "M -1 0 A 1 1 0 0 1 1 0", "size": 196, "filled": false, "color": "#555", "strokeWidth": 1, "opacity": 1}, "encoding": {"x": {"datum": -11.24, "axis": null}, "y": {"datum": -0.09, "axis": null}}},
{"data": {"name": "mk_d"}, "mark": {"type": "rule", "color": "#333", "strokeWidth": 1}, "encoding": {"x": {"datum": -13.86, "axis": null}, "x2": {"datum": -13.27}, "y": {"field": "label_cM", "type": "quantitative", "axis": null}}},
{"data": {"name": "mk_d"}, "mark": {"type": "rule", "color": "#333", "strokeWidth": 1}, "encoding": {"x": {"datum": -13.27, "axis": null}, "x2": {"datum": -11.99}, "y": {"field": "label_cM", "type": "quantitative", "axis": null}, "y2": {"field": "cM"}}},
{"data": {"name": "mk_d"}, "mark": {"type": "rule", "color": "#333", "strokeWidth": 1}, "encoding": {"x": {"datum": -11.99, "axis": null}, "x2": {"datum": -10.49}, "y": {"field": "cM", "type": "quantitative", "axis": null}}},
{"data": {"name": "mk_d"}, "mark": {"type": "rule", "color": "#333", "strokeWidth": 1}, "encoding": {"x": {"datum": -10.49, "axis": null}, "x2": {"datum": -9.2}, "y": {"field": "cM", "type": "quantitative", "axis": null}, "y2": {"field": "label_cM"}}},
{"data": {"name": "mk_d"}, "mark": {"type": "rule", "color": "#333", "strokeWidth": 1}, "encoding": {"x": {"datum": -9.2, "axis": null}, "x2": {"datum": -8.67}, "y": {"field": "label_cM", "type": "quantitative", "axis": null}}},
{"data": {"name": "mk_d"}, "transform": [{"filter": "!datum.qtl"}], "mark": {"type": "text", "align": "right", "baseline": "middle", "fontSize": 11, "color": "#111"}, "encoding": {"x": {"datum": -14.13, "axis": null}, "y": {"field": "label_cM", "type": "quantitative", "axis": null}, "text": {"field": "cM", "type": "quantitative", "format": ".1f"}}},
{"data": {"name": "mk_d"}, "transform": [{"filter": "datum.qtl"}], "mark": {"type": "text", "align": "right", "baseline": "middle", "fontSize": 11, "fontWeight": "bold", "color": "#111"}, "encoding": {"x": {"datum": -14.13, "axis": null}, "y": {"field": "label_cM", "type": "quantitative", "axis": null}, "text": {"field": "cM", "type": "quantitative", "format": ".1f"}}},
{"data": {"name": "mk_d"}, "transform": [{"filter": "!datum.qtl"}], "mark": {"type": "text", "align": "left", "baseline": "middle", "fontSize": 11, "color": "#111"}, "encoding": {"x": {"datum": -8.35, "axis": null}, "y": {"field": "label_cM", "type": "quantitative", "axis": null}, "text": {"field": "marker"}}},
{"data": {"name": "mk_d"}, "transform": [{"filter": "datum.qtl"}], "mark": {"type": "text", "align": "left", "baseline": "middle", "fontSize": 11, "fontWeight": "bold", "color": "#111"}, "encoding": {"x": {"datum": -8.35, "axis": null}, "y": {"field": "label_cM", "type": "quantitative", "axis": null}, "text": {"field": "marker"}}},
{"data": {"name": "mk_d"}, "transform": [{"filter": "datum.qtl"}], "mark": {"type": "rule", "color": "#9e3333", "strokeWidth": 1.6}, "encoding": {"x": {"datum": -3.28, "axis": null}, "x2": {"datum": 40}, "y": {"field": "cM", "type": "quantitative", "axis": null}}},
{"data": {"name": "mk_d"}, "transform": [{"filter": "datum.qtl"}], "mark": {"type": "text", "align": "left", "baseline": "middle", "dx": 4, "fontSize": 10.5, "fontWeight": "bold", "color": "#111"}, "encoding": {"x": {"datum": 40, "axis": null}, "y": {"field": "cM", "type": "quantitative", "axis": null}, "text": {"field": "marker"}}},
{"data": {"name": "lod_d"}, "mark": {"type": "line", "strokeWidth": 1.2},
 "encoding": {
  "x": {"field": "LOD", "type": "quantitative", "scale": {"domain": [-17.8, 40], "nice": false, "zero": false},
   "axis": {"orient": "top", "values": [0, 20, 40], "labelAngle": 90, "labelAlign": "right", "labelBaseline": "middle", "labelFontSize": 12, "labelColor": "#333", "labelPadding": 2, "labelFlush": false, "labelOverlap": false, "domain": false, "grid": false, "ticks": true, "tickSize": 7, "tickColor": "#777", "title": "LOD", "titleX": 552, "titleY": -10, "titleAngle": 0, "titleAlign": "left", "titleBaseline": "alphabetic", "titleFontSize": 16, "titleFontWeight": "normal", "titleColor": "#111"}},
  "y": {"field": "cM", "type": "quantitative", "scale": {"domain": [0, 16.58], "reverse": true, "nice": false, "zero": false},
   "axis": {"orient": "left", "domain": false, "ticks": false, "labels": false, "grid": false, "title": "ALB16", "titleX": 30.7, "titleY": -26.6, "titleAngle": 0, "titleAlign": "left", "titleBaseline": "alphabetic", "titleFontSize": 22.5, "titleFontWeight": "bold", "titleColor": "#000"}},
  "color": {"field": "trait", "type": "nominal", "scale": {"domain": ["nonv_05", "nonv_16", "antr_avg"], "range": ["#000080", "#ff00ff", "#ff0000"]}},
  "order": {"field": "cM", "type": "quantitative"}
 }},
{"data": {"values": [{}]}, "mark": {"type": "rect", "fill": "#ffffff", "stroke": "#000000", "strokeWidth": 3}, "encoding": {"x": {"datum": 13.75, "axis": null}, "x2": {"datum": 38.9}, "y": {"datum": 7.29, "axis": null}, "y2": {"datum": 16.03}}},
{"data": {"values": [{}]}, "mark": {"type": "rule", "color": "#000", "strokeWidth": 3}, "encoding": {"x": {"datum": 28.01, "axis": null}, "y": {"datum": 9.23, "axis": null}, "y2": {"datum": 14.38}}},
{"data": {"values": [{}]}, "mark": {"type": "rule", "color": "#000", "strokeWidth": 3}, "encoding": {"x": {"datum": 30.33, "axis": null}, "x2": {"datum": 37.11}, "y": {"datum": 14.26, "axis": null}}},
{"data": {"values": [{}]}, "mark": {"type": "text", "align": "left", "baseline": "alphabetic", "fontSize": 15.5, "fontWeight": "bold", "color": "#000"}, "encoding": {"x": {"datum": 30.26, "axis": null}, "y": {"datum": 8.52, "axis": null}, "text": {"value": "Scales:"}}},
{"data": {"values": [{}]}, "mark": {"type": "text", "align": "left", "baseline": "alphabetic", "fontSize": 18, "color": "#000"}, "encoding": {"x": {"datum": 29.19, "axis": null}, "y": {"datum": 10.1, "axis": null}, "text": {"value": "5 cM"}}},
{"data": {"values": [{}]}, "mark": {"type": "text", "align": "left", "baseline": "alphabetic", "fontSize": 18, "color": "#000"}, "encoding": {"x": {"datum": 30.44, "axis": null}, "y": {"datum": 15.43, "axis": null}, "text": {"value": "5 LOD"}}}
]
}
],
"config": {
 "view": {"stroke": null},
 "font": "Liberation Sans"
}
}
